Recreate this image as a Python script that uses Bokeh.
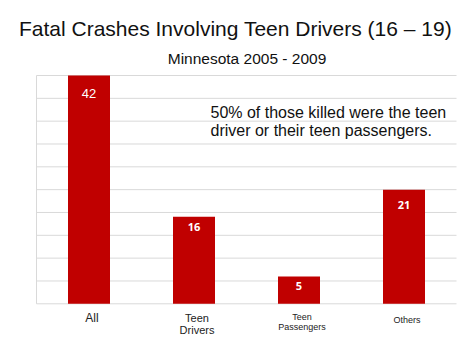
from bokeh.plotting import figure
from bokeh.models import ColumnDataSource, Range1d
from bokeh.core.properties import value
from bokeh.embed import file_html
from bokeh.resources import INLINE

# ---- data ----
categories = ["All", "Teen Drivers", "Teen Passengers", "Others"]
label_lines = [["All"], ["Teen", "Drivers"], ["Teen", "Passengers"], ["Others"]]
counts = [42, 16, 5, 21]
y_max = 42
n_grid = 10
grid_ticks = [y_max * i / n_grid for i in range(n_grid + 1)]
title = "Fatal Crashes Involving Teen Drivers (16 \u2013 19)"
subtitle = "Minnesota 2005 - 2009"
note_lines = ["50% of those killed were the teen", "driver or their teen passengers."]

# ---- styles ----
bar_color = "#C00000"
grid_color = "#d9d9d9"
FONT = "Arial"
font = value(FONT)
label_offsets = [18, 10, 9, 15]           # px below bar top
label_sizes = ["13px", "11px", "11px", "11px"]
label_fonts = [FONT, "Open Sans", "Open Sans", "Open Sans"]
xlab_sizes = ["12px", "11px", "9px", "9px"]

W, H = 474, 355
x0_px, x1_px = 36, 456
y0_px, y1_px = 303.3, 75
ppx = (x1_px - x0_px) / len(categories)
ppy = (y0_px - y1_px) / y_max


def dx(px):
    return (px - x0_px) / ppx


def dy(py):
    return (y0_px - py) / ppy


p = figure(width=W, height=H, output_backend="svg", toolbar_location=None,
           min_border=0, x_axis_type="linear")
p.x_range = Range1d(dx(0), dx(W))
p.y_range = Range1d(dy(H), dy(0))
p.axis.visible = False
p.grid.visible = False
p.outline_line_color = None
p.background_fill_color = "white"
p.border_fill_color = "white"

xs = [i + 0.5 for i in range(len(categories))]

# gridlines
p.segment(x0=[0] * len(grid_ticks), x1=[len(categories)] * len(grid_ticks),
          y0=grid_ticks, y1=grid_ticks, line_color=grid_color, line_width=1)
# left axis line
p.segment(x0=[0], x1=[0], y0=[0], y1=[y_max], line_color=grid_color, line_width=1)

# bars
src = ColumnDataSource(dict(x=xs, top=counts, cat=categories))
p.vbar(x="x", top="top", bottom=0, width=0.4, source=src,
       fill_color=bar_color, line_color=None)

# value labels
for xi, c, off, sz, fn in zip(xs, counts, label_offsets, label_sizes, label_fonts):
    p.text(x=[xi], y=[c], text=[str(c)], y_offset=off, text_align="center",
           text_baseline="middle", text_color="white", text_font=value(fn),
           text_font_size=sz, text_font_style="bold" if fn == "Open Sans" else "normal")

# category labels (pixel centre of first line / single line)
xlab_py = [317.7, 317, 316, 319.7]
for xi, lines, sz, py in zip(xs, label_lines, xlab_sizes, xlab_py):
    lh = int(sz[:-2]) * 1.15
    for k, ln in enumerate(lines):
        p.text(x=[xi], y=[dy(py + k * lh)], text=[ln], x_offset=3,
               text_align="center", text_baseline="middle", text_color="#222222",
               text_font=font, text_font_size=sz)

# title and subtitle
p.text(x=[dx(235)], y=[dy(27.5)], text=[title], text_align="center",
       text_baseline="middle", text_color="#111111", text_font=font,
       text_font_size="21px")
p.text(x=[dx(246.5)], y=[dy(58)], text=[subtitle], text_align="center",
       text_baseline="middle", text_color="#111111", text_font=font,
       text_font_size="15.5px")

# note
for k, ln in enumerate(note_lines):
    p.text(x=[dx(210)], y=[dy(111.7 + k * 18.5)], text=[ln], text_align="left",
           text_baseline="middle", text_color="#111111", text_font=font,
           text_font_size="16px")

open("out.html", "w").write(file_html(p, INLINE))
